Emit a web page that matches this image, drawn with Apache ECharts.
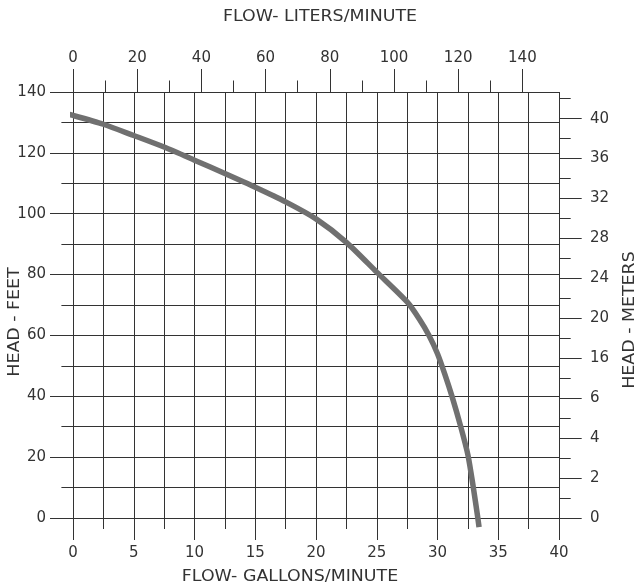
<!DOCTYPE html>
<html>
<head>
<meta charset="utf-8">
<script src="https://cdn.jsdelivr.net/npm/echarts@6/dist/echarts.min.js"></script>
<style>
html,body{margin:0;padding:0;background:#fff;}
#chart{width:640px;height:586px;}
</style>
</head>
<body>
<div id="chart"></div>
<script>
// Pump curve: flow (US gal/min) vs head (feet)
const flowGpm = [-1.1, 0, 2.5, 5, 7.5, 10, 12.5, 15, 17.5, 20, 22.5, 25, 27.5, 28.5, 29.3, 30.0, 30.6, 31.2, 31.9, 32.5, 32.95, 33.3, 33.42];
const headFt  = [133.4, 132.3, 129.4, 125.7, 121.9, 117.6, 113.2, 108.7, 103.9, 98.3, 90.6, 80.8, 71.0, 65.4, 60.0, 54.0, 47.3, 39.9, 30.2, 20.8, 10.0, 0.5, -3.0];

// Tick labels
const gpmLabels = [0, 5, 10, 15, 20, 25, 30, 35, 40];
const lpmLabels = [0, 20, 40, 60, 80, 100, 120, 140];
const lpmMinor  = [10, 30, 50, 70, 90, 110, 130];
const feetLabels = [0, 20, 40, 60, 80, 100, 120, 140];
const meterLabelPos  = [0, 4, 8, 12, 16, 20, 24, 28, 32, 36, 40];
const meterLabelText = ['0', '2', '4', '6', '16', '20', '24', '28', '32', '36', '40'];
const meterMinor = [2, 6, 10, 14, 18, 22, 26, 30, 34, 38, 42];

const GPM_MAX = 40, FT_MAX = 140;
const LPM_MAX = GPM_MAX * 3.78541;
const M_MAX = FT_MAX / 3.28084;

const FONT = '"DejaVu Sans", sans-serif';
const INK = '#333';
const lineC = { color: INK, width: 1 };
const lbl = { color: INK, fontFamily: FONT, fontSize: 15 };

const chart = echarts.init(document.getElementById('chart'), null, { renderer: 'canvas' });

const hiddenLine = { show: false, onZero: false };

function title(text, x, y, rot) {
  return { type: 'text', x: x, y: y, rotation: rot || 0, scaleX: 1.16,
    style: { text: text, fill: INK, font: '15px ' + FONT,
             textAlign: 'center', textVerticalAlign: 'middle', align: 'center', verticalAlign: 'middle' } };
}

chart.setOption({
  animation: false,
  backgroundColor: '#fff',
  grid: { left: 73, right: 81, top: 92, bottom: 68, containLabel: false },
  xAxis: [
    { type: 'value', position: 'bottom', min: 0, max: GPM_MAX, interval: 2.5,
      axisLine: hiddenLine, axisTick: { show: true, length: 11, lineStyle: lineC },
      axisLabel: { show: false }, splitLine: { show: true, lineStyle: lineC } },
    { type: 'value', position: 'bottom', min: 0, max: GPM_MAX,
      axisLine: hiddenLine,
      axisTick: { show: true, length: 22, lineStyle: lineC, customValues: gpmLabels },
      axisLabel: Object.assign({ margin: 28, customValues: gpmLabels }, lbl),
      splitLine: { show: false } },
    { type: 'value', position: 'top', min: 0, max: LPM_MAX,
      axisLine: hiddenLine,
      axisTick: { show: true, length: 11.5, lineStyle: lineC, customValues: lpmMinor },
      axisLabel: { show: false }, splitLine: { show: false } },
    { type: 'value', position: 'top', min: 0, max: LPM_MAX,
      axisLine: hiddenLine,
      axisTick: { show: true, length: 23, lineStyle: lineC, customValues: lpmLabels },
      axisLabel: Object.assign({ margin: 26, customValues: lpmLabels }, lbl),
      splitLine: { show: false } }
  ],
  yAxis: [
    { type: 'value', position: 'left', min: 0, max: FT_MAX, interval: 10,
      axisLine: hiddenLine, axisTick: { show: true, length: 11.6, lineStyle: lineC },
      axisLabel: { show: false }, splitLine: { show: true, lineStyle: lineC } },
    { type: 'value', position: 'left', min: 0, max: FT_MAX,
      axisLine: hiddenLine,
      axisTick: { show: true, length: 23, lineStyle: lineC, customValues: feetLabels },
      axisLabel: Object.assign({ margin: 27, customValues: feetLabels }, lbl),
      splitLine: { show: false } },
    { type: 'value', position: 'right', min: 0, max: M_MAX,
      axisLine: hiddenLine,
      axisTick: { show: true, length: 11.7, lineStyle: lineC, customValues: meterMinor },
      axisLabel: { show: false }, splitLine: { show: false } },
    { type: 'value', position: 'right', min: 0, max: M_MAX,
      axisLine: hiddenLine,
      axisTick: { show: true, length: 22.7, lineStyle: lineC, customValues: meterLabelPos },
      axisLabel: Object.assign({ margin: 31, align: 'left', customValues: meterLabelPos,
        formatter: function (v) {
          const i = meterLabelPos.findIndex(function (p) { return Math.abs(p - v) < 1e-6; });
          return i >= 0 ? meterLabelText[i] : '';
        } }, lbl),
      splitLine: { show: false } }
  ],
  series: [{
    type: 'line',
    xAxisIndex: 0,
    yAxisIndex: 0,
    data: flowGpm.map(function (g, i) { return [g, headFt[i]]; }),
    smooth: 0.25,
    showSymbol: false,
    clip: false,
    lineStyle: { color: '#707070', width: 5.5, cap: 'butt' },
    z: 5
  }],
  graphic: [
    title('FLOW- LITERS/MINUTE', 320, 17),
    title('FLOW- GALLONS/MINUTE', 290, 577),
    title('HEAD - FEET', 15, 322, Math.PI / 2),
    title('HEAD - METERS', 630, 320, Math.PI / 2)
  ]
});
</script>
</body>
</html>
